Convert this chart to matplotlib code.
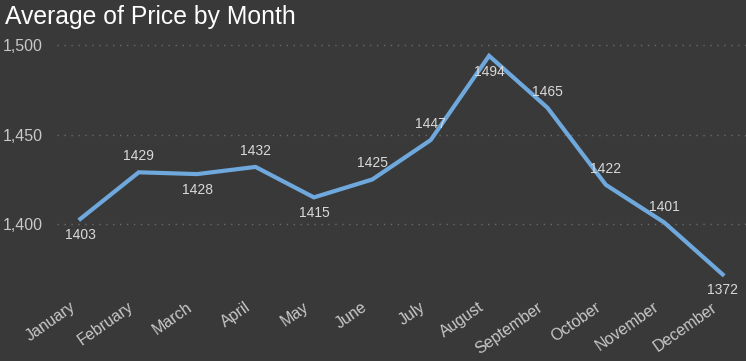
import matplotlib.pyplot as plt
from matplotlib.transforms import ScaledTranslation

months = ['January', 'February', 'March', 'April', 'May', 'June', 'July',
          'August', 'September', 'October', 'November', 'December']
avg_price = [1403, 1429, 1428, 1432, 1415, 1425, 1447, 1494, 1465, 1422, 1401, 1372]
# label above (+1) or below (-1) the point
label_side = [-1, 1, -1, 1, -1, 1, 1, -1, 1, 1, 1, -1]
yticks = [1400, 1450, 1500]

bg = '#393939'
plt.rcParams['font.family'] = ['Liberation Sans', 'DejaVu Sans']

fig = plt.figure(figsize=(7.46, 3.61), dpi=100, facecolor=bg)
ax = fig.add_axes([0.0764, 0.205, 0.9236, 0.698], facecolor=bg)

x = range(len(months))
ax.plot(x, avg_price, color='#6fa8dc', linewidth=3, solid_joinstyle='miter')

for xi, v, s in zip(x, avg_price, label_side):
    ax.annotate(str(v), (xi, v), xytext=(0, 11.5 * s), textcoords='offset points',
                ha='center', va='center', fontsize=10, color='#d9d9d9')

ax.set_xlim(-0.4, 11.4)
ax.set_ylim(1365, 1505.6)
ax.set_yticks(yticks)
ax.set_yticklabels([f'{t:,}' for t in yticks])
ax.set_xticks(list(x))
ax.set_xticklabels(months, rotation=35, ha='right', va='top', rotation_mode='anchor')

ax.tick_params(axis='both', length=0, colors='#c8c8c8')
ax.tick_params(axis='y', labelsize=11.5, pad=10)
ax.tick_params(axis='x', labelsize=11.5, pad=9)
shift = ScaledTranslation(-8 / 72, 0, fig.dpi_scale_trans)
for lbl in ax.get_xticklabels():
    lbl.set_transform(lbl.get_transform() + shift)

ax.grid(axis='y', color='#6a6a6a', linestyle=(0, (1, 4)), linewidth=1)
ax.set_axisbelow(True)
for sp in ax.spines.values():
    sp.set_visible(False)

fig.text(0.007, 0.985, 'Average of Price by Month', color='white', fontsize=17.8,
         ha='left', va='top')

fig.savefig('out.png', dpi=100, facecolor=bg)
